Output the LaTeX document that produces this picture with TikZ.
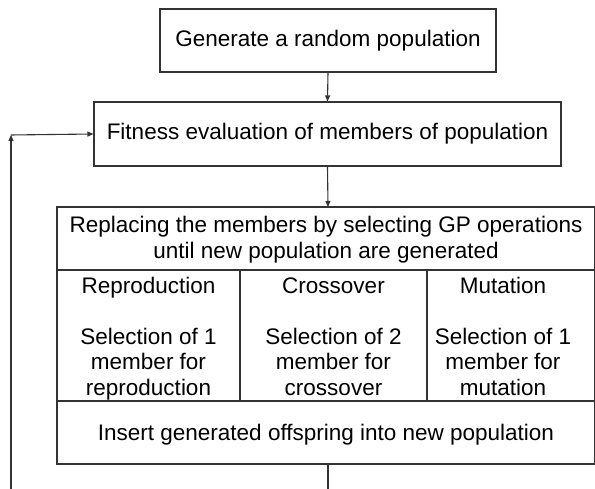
\documentclass[tikz,border=0pt]{standalone}
\usepackage{fontspec}
\setmainfont{Liberation Sans}
\usetikzlibrary{arrows.meta}
\begin{document}
\begin{tikzpicture}[x=1pt,y=1pt,
  line/.style={draw=black!80,line width=1.1pt},
  arr/.style={line,-{Triangle[length=6pt,width=5pt]}},
  box/.style={line,rectangle,inner sep=0pt,font=\fontsize{22.5}{25.5}\selectfont},
  txt/.style={inner sep=0pt,align=center,font=\fontsize{22.5}{25.5}\selectfont}]
\useasboundingbox (0,0) rectangle (595,489);
% top boxes
\node[box,minimum width=336pt,minimum height=63pt] (gen) at (328,448.5) {Generate a random population};
\node[box,minimum width=467pt,minimum height=64pt] (fit) at (327.5,355) {Fitness evaluation of members of population};
% table box
\draw[line] (57,282) rectangle (594.5,25);
\coordinate (ttop) at (328,282);
\coordinate (tbot) at (328,25);
\draw[line] (57,219) -- (594.5,219);
\draw[line] (57,88) -- (594.5,88);
\draw[line] (240,219) -- (240,88);
\draw[line] (427,219) -- (427,88);
\node[txt] (repl) at (326,248.4) {\strut Replacing the members by selecting GP operations\\\strut until new population are generated};
\node[txt] (rep) at (148.5,150) {\strut Reproduction\\[25.5pt]\strut Selection of 1\\\strut member for\\\strut reproduction};
\node[txt] (cro) at (333.5,150) {\strut Crossover\\[25.5pt]\strut Selection of 2\\\strut member for\\\strut crossover};
\node[txt] (mut) at (503,150) {\strut Mutation\\[25.5pt]\strut Selection of 1\\\strut member for\\\strut mutation};
\node[txt] (ins) at (326,53.1) {\strut Insert generated offspring into new population};
% connectors
\coordinate (bot) at (328,0);
\coordinate (fbb) at (11,0);
\coordinate (fbt) at (11,354);
\draw[arr] (gen.south) -- (fit.north);
\draw[arr] (fit.south) -- (ttop);
\draw[line] (tbot) -- (bot);
\draw[arr] (fbb) -- (fbt);
\draw[arr] (fbt) -- (fit.west);
\end{tikzpicture}
\end{document}
